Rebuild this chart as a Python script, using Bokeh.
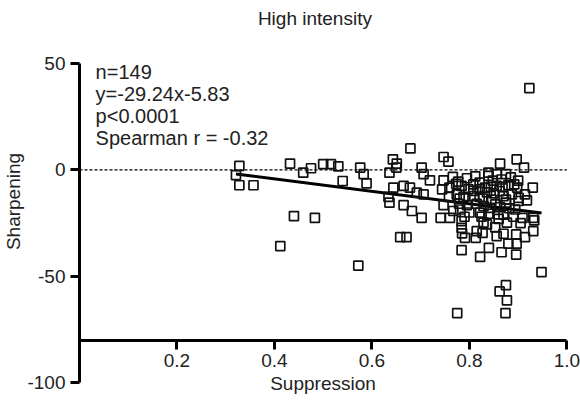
from bokeh.plotting import figure
from bokeh.models import Range1d, LinearAxis, FixedTicker, Label, PrintfTickFormatter
from bokeh.embed import file_html
from bokeh.resources import INLINE

# ---- data ----
suppression = [
    0.923, 0.328, 0.321, 0.328, 0.357, 0.432, 0.459, 0.475, 0.500, 0.516,
    0.531, 0.540, 0.576, 0.583, 0.589, 0.636, 0.643, 0.651, 0.650, 0.679,
    0.702, 0.706, 0.719, 0.747, 0.757, 0.644, 0.665, 0.678, 0.692, 0.706,
    0.634, 0.636, 0.665, 0.682, 0.702, 0.741, 0.760, 0.440, 0.483, 0.658,
    0.671, 0.839, 0.863, 0.897, 0.912, 0.856, 0.875, 0.839, 0.747, 0.766,
    0.777, 0.795, 0.744, 0.759, 0.773, 0.784, 0.798, 0.808, 0.821, 0.832,
    0.844, 0.856, 0.868, 0.880, 0.892, 0.898, 0.930, 0.758, 0.774, 0.788,
    0.810, 0.821, 0.870, 0.887, 0.901, 0.914, 0.918, 0.901, 0.747, 0.779,
    0.795, 0.815, 0.829, 0.843, 0.853, 0.863, 0.875, 0.781, 0.767, 0.822,
    0.839, 0.859, 0.894, 0.909, 0.931, 0.933, 0.784, 0.829, 0.836, 0.877,
    0.784, 0.815, 0.827, 0.856, 0.870, 0.896, 0.914, 0.931, 0.791, 0.813,
    0.412, 0.572, 0.784, 0.822, 0.840, 0.866, 0.880, 0.896, 0.897, 0.948,
    0.875, 0.862, 0.877, 0.775, 0.874, 0.808, 0.821, 0.836, 0.850, 0.862,
    0.875, 0.882, 0.845, 0.800, 0.790, 0.860, 0.870, 0.890, 0.905, 0.825,
    0.853, 0.780, 0.900, 0.866, 0.785, 0.812, 0.848, 0.885, 0.828,
]
sharpening = [
    38.5, 1.9, -2.4, -7.2, -7.2, 3.0, -1.3, 0.8, 2.7, 2.7,
    1.7, -5.2, 1.1, -2.0, -6.3, -1.3, 5.0, 3.0, 1.1, 10.1,
    1.1, -2.0, -4.9, 6.1, 3.9, -8.3, -7.5, -8.3, -10.7, -11.5,
    -12.7, -15.4, -16.5, -19.3, -22.5, -22.5, -22.5, -21.7, -22.5, -31.6,
    -31.6, -1.3, 3.0, 5.0, 1.1, -2.0, -2.0, -2.8, -4.9, -3.3,
    -5.5, -3.9, -9.1, -8.3, -6.5, -7.5, -9.1, -9.9, -9.1, -8.3,
    -8.0, -7.5, -8.0, -7.1, -6.8, -8.3, -8.3, -12.7, -11.5, -12.7,
    -12.3, -12.7, -12.3, -11.5, -13.1, -11.5, -14.3, -14.6, -16.5, -15.9,
    -16.5, -15.9, -17.0, -17.8, -16.2, -17.5, -15.4, -18.6, -19.3, -20.1,
    -20.6, -20.9, -18.6, -22.5, -22.5, -23.7, -24.1, -24.8, -25.6, -24.8,
    -27.2, -28.8, -29.6, -31.1, -30.0, -30.3, -31.6, -28.8, -31.9, -31.9,
    -35.8, -45.0, -37.7, -40.9, -36.6, -38.7, -34.6, -39.8, -34.6, -48.0,
    -54.2, -57.1, -61.3, -67.3, -67.3, -6.8, -6.0, -10.5, -11.0, -10.0,
    -14.0, -18.0, -14.0, -20.0, -22.0, -23.0, -21.0, -22.0, -25.0, -22.0,
    -27.0, -13.5, -5.0, -4.5, -29.8, -3.0, -5.0, -3.5, -13.5,
]
fit_slope = -29.24
fit_intercept = 7.5          # intercept of the line as drawn in the picture
x_ticks = [0.2, 0.4, 0.6, 0.8, 1.0]
y_ticks = [-100, -50, 0, 50]
stats_lines = ["n=149", "y=-29.24x-5.83", "p<0.0001", "Spearman r = -0.32"]
title_text = "High intensity"

FONT = "Liberation Sans"
TXT = "#222222"

p = figure(frame_width=502, frame_height=392,
           x_range=Range1d(0, 1.03), y_range=Range1d(-107, 77.33),
           x_axis_location=None, y_axis_location=None,
           output_backend="svg", toolbar_location=None,
           min_border_left=76, min_border_top=5,
           min_border_right=2, min_border_bottom=4)
p.outline_line_color = None
p.grid.visible = False
p.background_fill_color = "white"

# y axis (drawn only from -100 to 50)
yax = LinearAxis(ticker=FixedTicker(ticks=y_ticks), axis_label="Sharpening",
                 bounds=(min(y_ticks), max(y_ticks)),
                 formatter=PrintfTickFormatter(format="%d"))
# x axis crossing at y=-80
xax = LinearAxis(ticker=FixedTicker(ticks=x_ticks), axis_label="Suppression",
                 fixed_location=-80, bounds=(0, max(x_ticks)),
                 formatter=PrintfTickFormatter(format="%.1f"))
for ax in (xax, yax):
    ax.axis_line_width = 3
    ax.axis_line_color = "black"
    ax.major_tick_line_width = 3
    ax.major_tick_line_color = "black"
    ax.major_tick_out = 9
    ax.major_tick_in = 0
    ax.minor_tick_out = 0
    ax.minor_tick_in = 0
    ax.major_label_text_font = FONT
    ax.major_label_text_font_size = "19px"
    ax.major_label_text_color = TXT
    ax.axis_label_text_font = FONT
    ax.axis_label_text_font_size = "19px"
    ax.axis_label_text_font_style = "normal"
    ax.axis_label_text_color = TXT
yax.major_label_standoff = 5
yax.axis_label_standoff = 0
xax.major_label_standoff = 5
xax.axis_label_standoff = 2
p.add_layout(yax, "left")
p.add_layout(xax, "below")

# dotted zero line across the x-axis extent
p.segment(x0=[0], x1=[max(x_ticks)], y0=[0], y1=[0], line_color="black",
          line_width=1.2, line_dash="3 2")

# regression line
lx = [min(suppression), max(suppression)]
ly = [fit_slope * v + fit_intercept for v in lx]
p.line(lx, ly, line_color="black", line_width=3)

# points
p.scatter(suppression, sharpening, marker="square", size=9,
          fill_alpha=0, line_color="#111111", line_width=1.7)

# stats text
for i, t in enumerate(stats_lines):
    p.add_layout(Label(x=0.033, y=45.9 - i * 10.3, text=t, text_baseline="middle",
                       text_font=FONT, text_font_size="20px", text_color=TXT))

# title
p.add_layout(Label(x=0.483, y=71.2, text=title_text, text_align="center",
                   text_baseline="middle", text_font=FONT,
                   text_font_size="19px", text_color=TXT))

open("out.html", "w").write(file_html(p, INLINE))
